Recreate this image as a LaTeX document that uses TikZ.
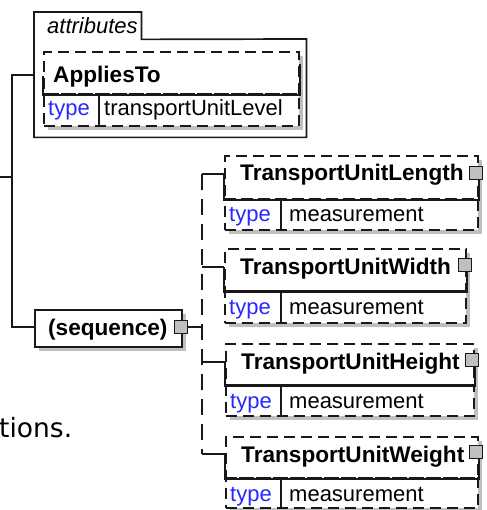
\documentclass[tikz,border=0pt]{standalone}
\usepackage{fontspec}
\setmainfont{Liberation Sans}
\newfontfamily\vfont{DejaVu Sans}
\usetikzlibrary{shadows}
\definecolor{typeblue}{RGB}{40,40,255}
\tikzset{
  ln/.style={line width=1.7pt, draw=black!90},
  dsh/.style={dash pattern=on 11pt off 6pt},
  shd/.style={drop shadow={shadow xshift=4pt, shadow yshift=-4pt, fill=black!25, opacity=1}},
  ebox/.style={rectangle, ln, dsh, fill=white, inner sep=0pt, anchor=north west, shd},
  sbox/.style={rectangle, ln, fill=white, inner sep=0pt, anchor=north west},
  sq/.style={rectangle, draw=black!90, line width=1.3pt, fill=black!25, minimum size=13pt, inner sep=0pt},
  nm/.style={font=\fontsize{22.6}{26}\selectfont\bfseries, anchor=base west, inner sep=0pt},
  tp/.style={font=\fontsize{22}{26}\selectfont, text=typeblue, anchor=base west, inner sep=0pt},
  vl/.style={font=\fontsize{22}{26}\selectfont, anchor=base west, inner sep=0pt},
  conn/.style={ln, solid},
}
\begin{document}
\begin{tikzpicture}[x=1pt,y=-1pt]
\useasboundingbox (0,0) rectangle (486,510);
\fill[white] (0,0) rectangle (486,510);

% attributes group
\node[rectangle, inner sep=0pt, anchor=north west, minimum width=107pt, minimum height=27pt] (attrTab) at (34,12) {};
\node[rectangle, inner sep=0pt, anchor=north west, minimum width=272pt, minimum height=98pt] (attrs) at (34,39) {};
\draw[conn] (attrs.south west) -- (attrTab.north west) -- (attrTab.north east) -- (attrTab.south east) -- (attrs.north east) -- (attrs.south east) -- cycle;
\node[font=\fontsize{22}{26}\selectfont\itshape, anchor=base west, inner sep=0pt] (attrLbl) at (47,34) {attributes};

% AppliesTo
\node[ebox, minimum width=255pt, minimum height=42pt] (apN) at (43,51) {};
\node[ebox, minimum width=255pt, minimum height=32pt] (apT) at (43,93) {};
\draw[conn] ([yshift=-3pt]apN.west) -- (apN.south west) -- (apN.south east) -- ([yshift=9pt]apN.east);
\draw[conn] ([xshift=56pt]apT.north west) -- ([xshift=56pt]apT.south west);
\node[nm] (apName) at (53,83) {AppliesTo};
\node[tp] (apType) at (48,116) {type};
\node[vl] (apVal) at (104,116) {transportUnitLevel};

% sequence
\node[sbox, shd, minimum width=147pt, minimum height=37pt] (seq) at (34,309) {};
\node[nm] (seqLbl) at (48,335) {(sequence)};
\node[sq] (seqS) at (181,327) {};

% TransportUnitLength
\node[ebox, minimum width=253pt, minimum height=43pt] (lenN) at (224,155) {};
\node[ebox, minimum width=253pt, minimum height=31pt] (lenT) at (224,198) {};
\node[sq] (lenS) at (476,173) {};
\coordinate (lenC) at (224,174);
\draw[conn] (lenC) -- (lenN.south west) -- (lenN.south east) -- (lenS.south -| lenN.east);
\draw[conn] ([xshift=57pt]lenT.north west) -- ([xshift=57pt]lenT.south west);
\node[nm] (lenName) at (240,181) {TransportUnitLength};
\node[tp] (lenType) at (229,222) {type};
\node[vl] (lenVal) at (289,222) {measurement};

% TransportUnitWidth
\node[ebox, minimum width=241pt, minimum height=42pt] (widN) at (224,248) {};
\node[ebox, minimum width=241pt, minimum height=32pt] (widT) at (224,290) {};
\node[sq] (widS) at (465,265) {};
\coordinate (widC) at (224,267);
\draw[conn] (widC) -- (widN.south west) -- (widN.south east) -- (widS.south -| widN.east);
\draw[conn] ([xshift=57pt]widT.north west) -- ([xshift=57pt]widT.south west);
\node[nm] (widName) at (240,274) {TransportUnitWidth};
\node[tp] (widType) at (229,314) {type};
\node[vl] (widVal) at (289,314) {measurement};

% TransportUnitHeight
\node[ebox, minimum width=248pt, minimum height=41pt] (heiN) at (225,343) {};
\node[ebox, minimum width=248pt, minimum height=31pt] (heiT) at (225,384) {};
\node[sq] (heiS) at (472,360) {};
\coordinate (heiC) at (225,362);
\draw[conn] (heiC) -- (heiN.south west) -- (heiN.south east) -- (heiS.south -| heiN.east);
\draw[conn] ([xshift=56pt]heiT.north west) -- ([xshift=56pt]heiT.south west);
\node[nm] (heiName) at (241,369) {TransportUnitHeight};
\node[tp] (heiType) at (230,408) {type};
\node[vl] (heiVal) at (289,408) {measurement};

% TransportUnitWeight
\node[ebox, minimum width=252pt, minimum height=41pt] (weiN) at (225,436) {};
\node[ebox, minimum width=252pt, minimum height=30pt] (weiT) at (225,477) {};
\node[sq] (weiS) at (476,452) {};
\coordinate (weiC) at (225,454);
\draw[conn] (weiC) -- (weiN.south west) -- (weiN.south east) -- (weiS.south -| weiN.east);
\draw[conn] ([xshift=56pt]weiT.north west) -- ([xshift=56pt]weiT.south west);
\node[nm] (weiName) at (241,462) {TransportUnitWeight};
\node[tp] (weiType) at (230,501) {type};
\node[vl] (weiVal) at (289,501) {measurement};

% connectors
\coordinate (root) at (0,177);
\coordinate (trunk) at (12,177);
\coordinate (sj) at (202,327);
\draw[conn] (root) -- (trunk);
\draw[conn] (attrs.west |- 0,75) -| (trunk) |- (seq.west |- seqS);
\draw[conn] (seqS.east) -- (sj);
\draw[ln, dash pattern=on 16pt off 9pt] (sj |- lenC) -- (sj |- weiC);
\draw[conn] (sj |- lenC) -- (lenC);
\draw[conn] (sj |- widC) -- (widC);
\draw[conn] (sj |- heiC) -- (heiC);
\draw[conn] (sj |- weiC) -- (weiC);

% truncated description text
\node[font=\vfont\fontsize{26.5}{30}\selectfont, anchor=base west, inner sep=0pt] (desc) at (-1,437) {tions.};
\end{tikzpicture}
\end{document}
